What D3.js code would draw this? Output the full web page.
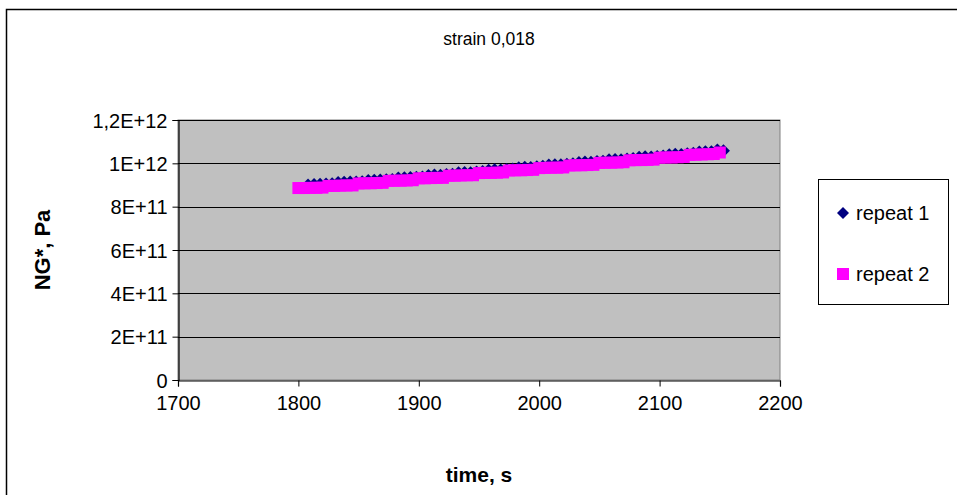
<!DOCTYPE html>
<html>
<head>
<meta charset="utf-8">
<script src="https://cdn.jsdelivr.net/npm/d3@7"></script>
<style>
    html, body { margin: 0; padding: 0; background: #fff; }
    svg { display: block; }
</style>
</head>
<body>
<div id="chart"></div>
<script>
// repeat 1 (navy diamonds)
const times1 = [
    1808, 1813, 1818, 1823, 1828, 1833, 1838, 1843, 1848, 1853,
    1858, 1863, 1868, 1873, 1878, 1883, 1888, 1893, 1898, 1903,
    1908, 1913, 1918, 1923, 1928, 1933, 1938, 1943, 1948, 1953,
    1958, 1963, 1968, 1973, 1978, 1983, 1988, 1993, 1998, 2003,
    2008, 2013, 2018, 2023, 2028, 2033, 2038, 2043, 2048, 2053,
    2058, 2063, 2068, 2073, 2078, 2083, 2088, 2093, 2098, 2103,
    2108, 2113, 2118, 2123, 2128, 2133, 2138, 2143, 2148, 2153
];
// values in units of 1E10 Pa
const values1 = [
    90.0, 90.2, 90.4, 90.5, 90.6, 91.2, 91.3, 91.4, 91.4, 91.5,
    92.1, 92.2, 92.3, 92.4, 92.5, 93.2, 93.4, 93.5, 93.6, 93.7,
    94.4, 94.6, 94.5, 94.8, 95.0, 95.6, 95.8, 95.7, 96.0, 96.2,
    96.8, 97.0, 96.9, 97.2, 97.4, 98.0, 98.2, 98.1, 98.4, 98.6,
    99.2, 99.4, 99.3, 99.6, 99.8, 100.4, 100.6, 100.5, 100.8, 101.0,
    101.6, 101.8, 101.7, 102.0, 102.2, 102.8, 103.0, 102.9, 103.2, 103.4,
    104.0, 104.2, 104.1, 104.4, 104.6, 105.2, 105.4, 105.3, 106.2, 105.8
];

// repeat 2 (magenta squares)
const times2 = [
    1800, 1805, 1810, 1815, 1820, 1825, 1830, 1835, 1840, 1845,
    1850, 1855, 1860, 1865, 1870, 1875, 1880, 1885, 1890, 1895,
    1900, 1905, 1910, 1915, 1920, 1925, 1930, 1935, 1940, 1945,
    1950, 1955, 1960, 1965, 1970, 1975, 1980, 1985, 1990, 1995,
    2000, 2005, 2010, 2015, 2020, 2025, 2030, 2035, 2040, 2045,
    2050, 2055, 2060, 2065, 2070, 2075, 2080, 2085, 2090, 2095,
    2100, 2105, 2110, 2115, 2120, 2125, 2130, 2135, 2140, 2145,
    2150
];
const values2 = [
    88.6, 88.6, 88.7, 88.7, 88.8, 89.6, 89.6, 89.7, 89.8, 89.8,
    90.7, 90.8, 90.8, 90.9, 91.0, 91.9, 92.0, 92.0, 92.1, 92.2,
    93.1, 93.1, 93.2, 93.3, 93.3, 94.3, 94.3, 94.4, 94.5, 94.5,
    95.5, 95.6, 95.6, 95.7, 95.8, 96.7, 96.8, 96.8, 96.9, 97.0,
    97.8, 97.9, 98.0, 98.0, 98.1, 99.0, 99.1, 99.1, 99.2, 99.3,
    100.2, 100.3, 100.3, 100.4, 100.5, 101.4, 101.5, 101.5, 101.6, 101.7,
    102.6, 102.7, 102.7, 102.8, 102.9, 103.9, 104.0, 104.1, 104.2, 104.3,
    105.0
];

const xTicks = [1700, 1800, 1900, 2000, 2100, 2200];
const yTicks = [0, 2e11, 4e11, 6e11, 8e11, 1e12, 1.2e12];
const yTickLabels = ["0", "2E+11", "4E+11", "6E+11", "8E+11", "1E+12", "1,2E+12"];
const seriesNames = ["repeat 1", "repeat 2"];

const width = 957;
const height = 495;
const font = "'Liberation Sans', Arial, sans-serif";
const plot = { left: 178, right: 780, top: 120, bottom: 380 };

const svg = d3.select("#chart")
    .append("svg")
    .attr("width", width)
    .attr("height", height)
    .attr("viewBox", [0, 0, width, height]);

svg.append("rect").attr("width", width).attr("height", height).attr("fill", "#fff");

// outer chart border (runs off the right and bottom of the picture)
svg.append("rect")
    .attr("x", 6.5)
    .attr("y", 9.5)
    .attr("width", 1000)
    .attr("height", 1000)
    .attr("fill", "none")
    .attr("stroke", "#000")
    .attr("stroke-width", 1.5);

let x = d3.scaleLinear().domain([1700, 2200]).range([plot.left, plot.right]);
let y = d3.scaleLinear().domain([0, 1.2e12]).range([plot.bottom, plot.top]);

// plot area
svg.append("rect")
    .attr("x", plot.left)
    .attr("y", plot.top)
    .attr("width", plot.right - plot.left)
    .attr("height", plot.bottom - plot.top)
    .attr("fill", "#c0c0c0")
    .attr("stroke", "#808080");

// gridlines
svg.append("g")
    .selectAll("line")
    .data(yTicks.slice(1))
    .join("line")
    .attr("x1", plot.left)
    .attr("x2", plot.right)
    .attr("y1", d => Math.round(y(d)) + 0.5)
    .attr("y2", d => Math.round(y(d)) + 0.5)
    .attr("stroke", "#000")
    .attr("stroke-width", 1);

// axes
const yAxis = svg.append("g")
    .attr("transform", `translate(${plot.left + 0.5},0)`)
    .call(d3.axisLeft(y).tickValues(yTicks).tickFormat((d, i) => yTickLabels[i]).tickSize(6).tickPadding(5));

const xAxis = svg.append("g")
    .attr("transform", `translate(0,${plot.bottom + 0.5})`)
    .call(d3.axisBottom(x).tickValues(xTicks).tickFormat(d3.format("d")).tickSize(6).tickPadding(9));

for (let ax of [xAxis, yAxis]) {
    ax.select(".domain").attr("stroke", "#000").attr("stroke-width", 1.2);
    ax.selectAll(".tick line").attr("stroke", "#000");
    ax.selectAll(".tick text")
        .attr("fill", "#000")
        .attr("font-family", font)
        .attr("font-size", "20px");
}
yAxis.selectAll(".tick text").attr("dy", "0.35em");

// series
const diamondPath = function (r) {
    return `M0,${-r}L${r},0L0,${r}L${-r},0Z`;
};
const squareSize = 12;

const series1 = times1.map((t, i) => ({ t: t, v: values1[i] * 1e10 }));
const series2 = times2.map((t, i) => ({ t: t, v: values2[i] * 1e10 }));

svg.append("g")
    .selectAll("path")
    .data(series1)
    .join("path")
    .attr("d", diamondPath(6.5))
    .attr("transform", d => `translate(${x(d.t)},${y(d.v)})`)
    .attr("fill", "#000080");

svg.append("g")
    .selectAll("rect")
    .data(series2)
    .join("rect")
    .attr("x", d => x(d.t) - squareSize / 2)
    .attr("y", d => y(d.v) - squareSize / 2)
    .attr("width", squareSize)
    .attr("height", squareSize)
    .attr("fill", "#ff00ff");

// title
svg.append("text")
    .attr("x", 489)
    .attr("y", 45)
    .attr("text-anchor", "middle")
    .attr("font-family", font)
    .attr("font-size", "17.5px")
    .attr("fill", "#000")
    .text("strain 0,018");

// axis titles
svg.append("text")
    .attr("x", 479)
    .attr("y", 482)
    .attr("text-anchor", "middle")
    .attr("font-family", font)
    .attr("font-size", "21px")
    .attr("font-weight", "bold")
    .attr("fill", "#000")
    .text("time, s");

svg.append("text")
    .attr("transform", `translate(50,${(plot.top + plot.bottom) / 2}) rotate(-90)`)
    .attr("text-anchor", "middle")
    .attr("font-family", font)
    .attr("font-size", "22px")
    .attr("font-weight", "bold")
    .attr("fill", "#000")
    .text("NG*, Pa");

// legend
const legend = svg.append("g");
legend.append("rect")
    .attr("x", 818.5)
    .attr("y", 179.5)
    .attr("width", 130)
    .attr("height", 125)
    .attr("fill", "#fff")
    .attr("stroke", "#000");

const legendY = [213, 274];
legend.append("path")
    .attr("d", diamondPath(6))
    .attr("transform", `translate(843,${legendY[0]})`)
    .attr("fill", "#000080");
legend.append("rect")
    .attr("x", 843 - 6)
    .attr("y", legendY[1] - 6)
    .attr("width", 12)
    .attr("height", 12)
    .attr("fill", "#ff00ff");

legend.selectAll("text.legend-label")
    .data(seriesNames)
    .join("text")
    .attr("class", "legend-label")
    .attr("x", 856)
    .attr("y", (d, i) => legendY[i] + 7)
    .attr("font-family", font)
    .attr("font-size", "20px")
    .attr("fill", "#000")
    .text(d => d);
</script>
</body>
</html>
